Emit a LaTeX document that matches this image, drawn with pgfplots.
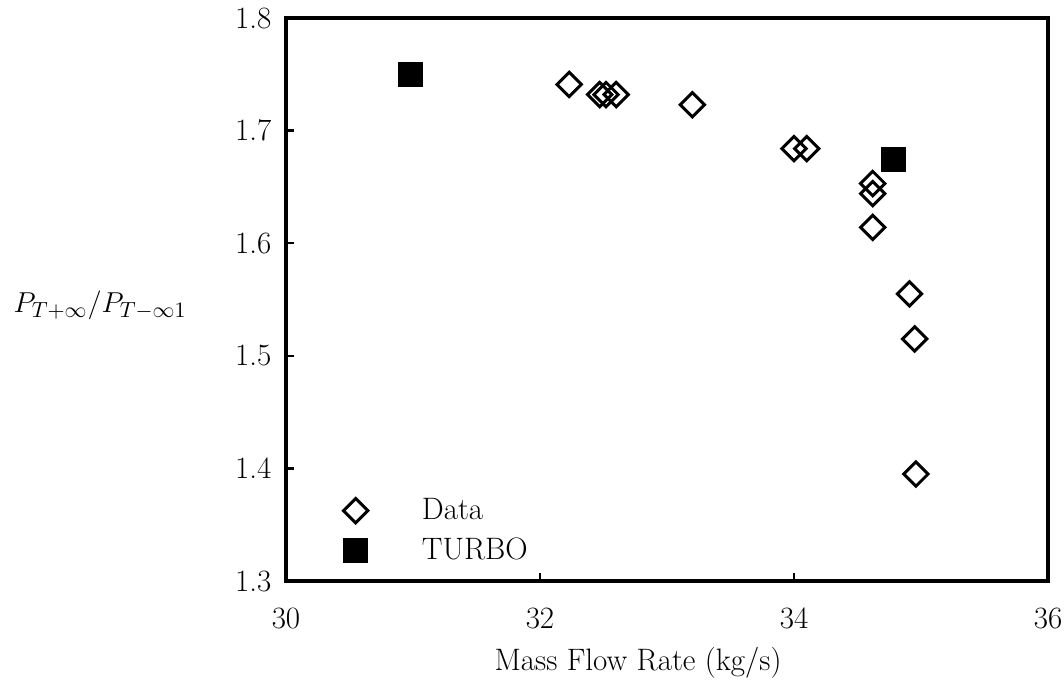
\documentclass[border=0pt]{standalone}
\usepackage{pgfplots}
\pgfplotsset{compat=1.18}

\begin{document}
\fontsize{15.5}{19}\selectfont
\begin{tikzpicture}
% fixed page frame around the axis box (axis box: 381pt x 281.5pt)
\useasboundingbox (-143pt,-53pt) rectangle (389pt,290.5pt);
\begin{axis}[
  at={(0,0)}, anchor=south west,
  scale only axis,
  width=381pt, height=281.5pt,
  xmin=30, xmax=36, ymin=1.3, ymax=1.8,
  xtick={30,32,34,36},
  ytick={1.3,1.4,1.5,1.6,1.7,1.8},
  xticklabels={30,32,34,36},
  yticklabels={1.3,1.4,1.5,1.6,1.7,1.8},
  tick pos=left, tick align=inside,
  major tick length=4pt,
  every tick/.style={black, line width=1.2pt},
  axis line style={line width=2pt},
  xticklabel style={yshift=-8pt},
  yticklabel style={xshift=-2pt},
  xlabel={Mass Flow Rate (kg/s)},
  xlabel style={at={(axis description cs:0.462,-0.146)}, anchor=center},
  ylabel={$P_{T+\infty}/P_{T-\infty 1}$},
  ylabel style={at={(axis description cs:-0.244,0.49)}, anchor=center, rotate=-90},
  legend style={draw=none, fill=none, inner sep=0pt,
    at={(axis description cs:0.075,0.089)}, anchor=west,
    font=\fontsize{15.5}{19}\selectfont,
    row sep=3pt,
    /tikz/every odd column/.append style={column sep=25pt}},
  legend cell align=left,
]
\addplot[only marks, mark=square, mark size=4.3pt,
  mark options={rotate=45, line width=1.5pt, draw=black, fill=white}]
  coordinates {
    (32.23,1.741) (32.47,1.732) (32.52,1.732) (32.60,1.732)
    (33.20,1.723) (34.00,1.684) (34.10,1.684)
    (34.62,1.653) (34.62,1.644) (34.62,1.614)
    (34.91,1.555) (34.95,1.515) (34.96,1.395)
  };
\addlegendentry{Data}
\addplot[only marks, mark=square*, mark size=6pt,
  mark options={draw=black, fill=black, line width=0.4pt}]
  coordinates {
    (30.98,1.750) (34.78,1.674)
  };
\addlegendentry{TURBO}
\end{axis}
\end{tikzpicture}
\end{document}
